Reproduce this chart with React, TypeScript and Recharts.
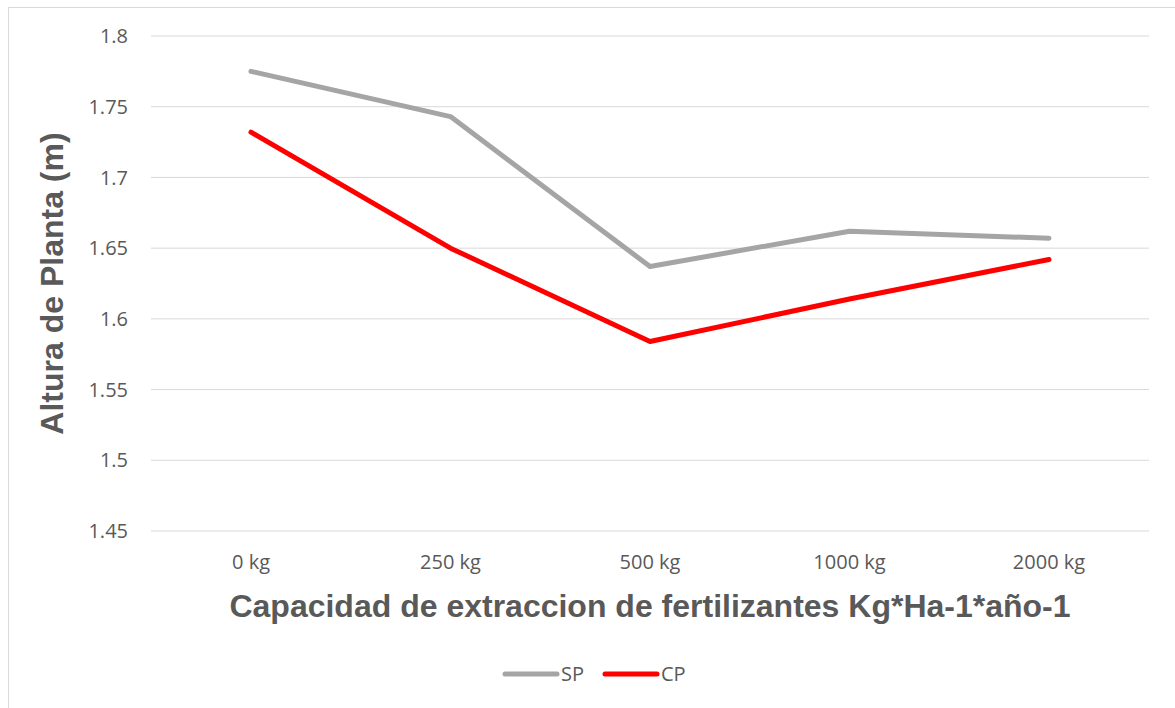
import { CartesianGrid, Label, Legend, Line, LineChart, XAxis, YAxis } from 'recharts'

const categories = ['0 kg', '250 kg', '500 kg', '1000 kg', '2000 kg']
const spValues = [1.775, 1.743, 1.637, 1.662, 1.657]
const cpValues = [1.732, 1.65, 1.584, 1.614, 1.642]
const yTicks = [1.45, 1.5, 1.55, 1.6, 1.65, 1.7, 1.75, 1.8]

const SP_COLOR = '#a5a5a5'
const CP_COLOR = '#ff0000'
const TEXT_COLOR = '#595959'
const FONT = '"Open Sans", sans-serif'
const TITLE_FONT = '"Liberation Sans", Arial, sans-serif'

const data = categories.map((name, i) => ({ name, SP: spValues[i], CP: cpValues[i] }))

function formatTick(v: number): string {
  return String(Number(v.toFixed(2)))
}

function LegendContent() {
  const items = [
    { label: 'SP', color: SP_COLOR },
    { label: 'CP', color: CP_COLOR },
  ]
  return (
    <div style={{ display: 'flex', alignItems: 'center', fontFamily: FONT, fontSize: 20, color: TEXT_COLOR }}>
      {items.map((it) => (
        <div key={it.label} style={{ display: 'flex', alignItems: 'center', marginRight: 18 }}>
          <svg width={58} height={10}>
            <line x1={3} y1={5} x2={55} y2={5} stroke={it.color} strokeWidth={5} strokeLinecap="round" />
          </svg>
          <span style={{ marginLeft: 1 }}>{it.label}</span>
        </div>
      ))}
    </div>
  )
}

export default function App() {
  return (
    <div style={{ position: 'absolute', left: 0, top: 0, width: 1175, height: 708, overflow: 'hidden', background: '#fff' }}>
      <div
        style={{
          position: 'absolute',
          left: 8,
          top: 7,
          width: 1200,
          height: 720,
          border: '1px solid #d9d9d9',
        }}
      />
      <LineChart
        width={1175}
        height={708}
        data={data}
        margin={{ top: 36, right: 26, bottom: 90, left: 8 }}
        style={{ position: 'absolute', left: 0, top: 0 }}
      >
        <CartesianGrid stroke="#d9d9d9" vertical={false} />
        <XAxis
          dataKey="name"
          height={60}
          padding={{ left: 100, right: 100 }}
          axisLine={false}
          tickLine={false}
          tickSize={0}
          tickMargin={24}
          tick={{ fill: TEXT_COLOR, fontSize: 20, fontFamily: FONT }}
        >
          <Label
            value="Capacidad de extraccion de fertilizantes Kg*Ha-1*año-1"
            position="bottom"
            offset={3}
            style={{ fill: TEXT_COLOR, fontSize: 32, fontWeight: 'bold', fontFamily: TITLE_FONT }}
          />
        </XAxis>
        <YAxis
          width={143}
          domain={[1.45, 1.8]}
          ticks={yTicks}
          interval={0}
          allowDataOverflow
          axisLine={false}
          tickLine={false}
          tickSize={0}
          tickMargin={23}
          tickFormatter={formatTick}
          tick={{ fill: TEXT_COLOR, fontSize: 20, fontFamily: FONT }}
        >
          <Label
            value="Altura de Planta (m)"
            angle={-90}
            position="insideLeft"
            offset={44}
            style={{ textAnchor: 'middle', fill: TEXT_COLOR, fontSize: 32, fontWeight: 'bold', fontFamily: TITLE_FONT }}
          />
        </YAxis>
        <Line
          dataKey="SP"
          type="linear"
          stroke={SP_COLOR}
          strokeWidth={5}
          strokeLinecap="round"
          strokeLinejoin="round"
          dot={false}
          activeDot={false}
          isAnimationActive={false}
        />
        <Line
          dataKey="CP"
          type="linear"
          stroke={CP_COLOR}
          strokeWidth={5}
          strokeLinecap="round"
          strokeLinejoin="round"
          dot={false}
          activeDot={false}
          isAnimationActive={false}
        />
        <Legend
          content={<LegendContent />}
          wrapperStyle={{ position: 'absolute', left: 502, top: 660, width: 'auto' }}
        />
      </LineChart>
    </div>
  )
}
